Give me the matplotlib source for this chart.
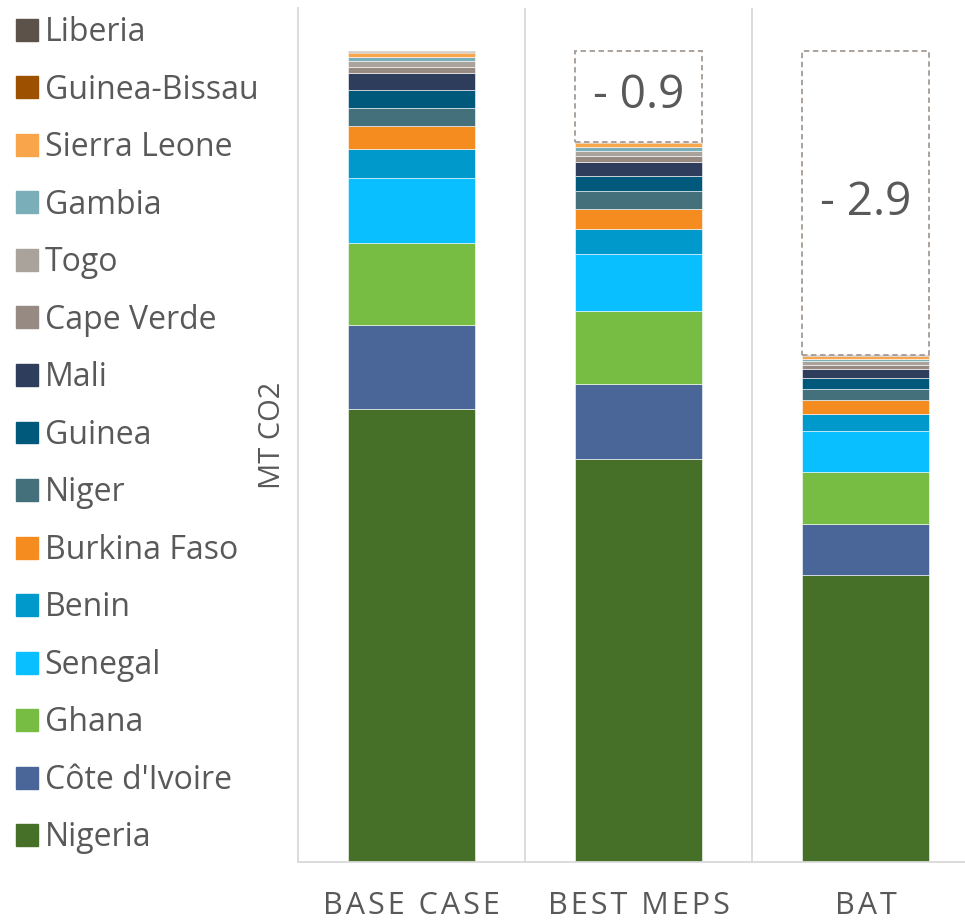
import numpy as np
import matplotlib.pyplot as plt
from matplotlib.patches import Patch, Rectangle

plt.rcParams['font.family'] = ['Open Sans', 'DejaVu Sans']

scenarios = ["BASE CASE", "BEST MEPS", "BAT"]
countries = ["Nigeria", "Côte d'Ivoire", "Ghana", "Senegal", "Benin", "Burkina Faso",
             "Niger", "Guinea", "Mali", "Cape Verde", "Togo", "Gambia",
             "Sierra Leone", "Guinea-Bissau", "Liberia"]
colors = ["#467028", "#4a6699", "#77bd44", "#0abfff", "#0099cc", "#f58c1f",
          "#43707a", "#00587a", "#2e3d5c", "#968a82", "#aaa39c", "#7aaeb8",
          "#f9a54c", "#9c5000", "#5c524a"]

# MT CO2 per country, for each scenario
base = [4.32, 0.80, 0.79, 0.62, 0.27, 0.22, 0.18, 0.17, 0.16, 0.057, 0.057, 0.04, 0.04, 0.01, 0.005]
meps = [3.85, 0.71, 0.70, 0.54, 0.245, 0.19, 0.165, 0.143, 0.14, 0.057, 0.05, 0.035, 0.035, 0.009, 0.004]
bat = [2.74, 0.49, 0.49, 0.39, 0.17, 0.125, 0.11, 0.10, 0.09, 0.04, 0.035, 0.022, 0.025, 0.006, 0.003]
savings = ["- 0.9", "- 2.9"]

data = np.array([base, meps, bat])
x = np.arange(len(scenarios))
w = 0.56

fig = plt.figure(figsize=(9.65, 9.22), dpi=100)
ax = fig.add_axes([298 / 965, 60 / 922, 681 / 965, 854 / 922])

bottom = np.zeros(len(scenarios))
for i, c in enumerate(countries):
    ax.bar(x, data[:, i], w, bottom=bottom, color=colors[i], edgecolor="white",
           linewidth=0.4, label=c)
    bottom += data[:, i]

totals = data.sum(axis=1)
for j in (1, 2):
    ax.add_patch(Rectangle((x[j] - w / 2, totals[j]), w, totals[0] - totals[j],
                           fill=False, edgecolor="#a59b93", linestyle=(0, (3, 2)), lw=1.3))
    ax.text(x[j], (totals[0] + totals[j]) / 2, savings[j - 1], ha="center", va="center",
            fontsize=33, color="#595959")

# spaced-out category labels
spaced = ["\u200a".join(s) for s in scenarios]
ax.set_xlim(-0.5, 2.5)
ax.set_ylim(0, 8.15)
ax.set_yticks([])
ax.set_xticks(x)
ax.set_xticklabels(spaced, fontsize=22, color="#595959")
ax.tick_params(axis="x", length=0, pad=21)
for xv in (0.5, 1.5):
    ax.axvline(xv, color="#d9d9d9", lw=1.3, zorder=0)
for s in ("top", "right"):
    ax.spines[s].set_visible(False)
for s in ("left", "bottom"):
    ax.spines[s].set_color("#d9d9d9")
    ax.spines[s].set_linewidth(1.3)
ax.set_ylabel("MT CO2", fontsize=21, color="#595959", labelpad=8)

handles = [Patch(color=colors[i]) for i in range(len(countries))][::-1]
fig.legend(handles, countries[::-1], loc="upper left", bbox_to_anchor=(0.0, 1.0),
           frameon=False, fontsize=23, labelcolor="#595959", handlelength=0.68,
           handleheight=0.68, handletextpad=0.22, labelspacing=0.768, borderaxespad=0.1)

fig.savefig("out.png", dpi=100)
